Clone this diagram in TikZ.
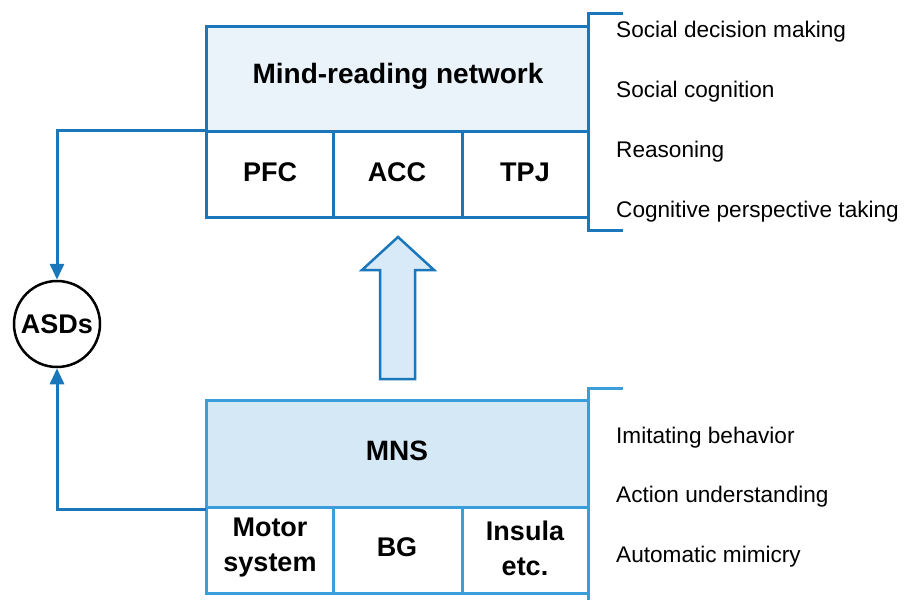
\documentclass[tikz,border=0pt]{standalone}
\usepackage{fontspec}
\setmainfont{Liberation Sans}
\usetikzlibrary{arrows.meta}
\definecolor{dblue}{HTML}{1B77BC}
\definecolor{lblue}{HTML}{3A9EDC}
\definecolor{topfill}{HTML}{EAF2FA}
\definecolor{botfill}{HTML}{D5E8F6}
\definecolor{arrfill}{HTML}{D8E9F7}
\begin{document}
\begin{tikzpicture}[x=1pt,y=-1pt,
  hdr/.style={font=\fontsize{28}{30}\selectfont\bfseries},
  cell/.style={font=\fontsize{27}{35}\selectfont\bfseries,align=center},
  lbl/.style={font=\fontsize{22.6}{26}\selectfont,anchor=base west,inner sep=0pt},
  conn/.style={draw=dblue,line width=3pt,-{Triangle[length=16pt,width=14pt]}},
  bline/.style={line width=3pt}]
\useasboundingbox (0,0) rectangle (914,600);
% top box
\fill[topfill] (206,26) rectangle (588,131);
\draw[dblue,bline] (206,26) rectangle (588,217);
\draw[dblue,bline] (206,131) -- (588,131);
\draw[dblue,bline] (333,131) -- (333,217);
\draw[dblue,bline] (462,131) -- (462,217);
\draw[dblue,bline] (623,13) -- (588,13) -- (588,230) -- (623,230);
\node[hdr] (mrn) at (398,76) {Mind-reading network};
\node[cell] (pfc) at (270,172) {PFC};
\node[cell] (acc) at (397,172) {ACC};
\node[cell] (tpj) at (525,172) {TPJ};
\node[lbl] (t1) at (616,37) {Social decision making};
\node[lbl] (t2) at (616,97) {Social cognition};
\node[lbl] (t3) at (616,157) {Reasoning};
\node[lbl] (t4) at (616,217) {Cognitive perspective taking};
% bottom box
\fill[botfill] (206,400) rectangle (588,507);
\draw[lblue,bline] (206,400) rectangle (588,593);
\draw[lblue,bline] (206,507) -- (588,507);
\draw[lblue,bline] (333,507) -- (333,593);
\draw[lblue,bline] (462,507) -- (462,593);
\draw[lblue,bline] (623,388) -- (588,388) -- (588,600);
\node[hdr] (mns) at (397,451) {MNS};
\node[cell] (mot) at (270,548) {Motor\\system};
\node[cell] (bg) at (397,547) {BG};
\node[cell] (ins) at (525,548) {Insula\\etc.};
\node[lbl] (b1) at (616,443) {Imitating behavior};
\node[lbl] (b2) at (616,502) {Action understanding};
\node[lbl] (b3) at (616,562) {Automatic mimicry};
% big arrow
\draw[dblue,line width=2.5pt,fill=arrfill,line join=miter]
  (380,379) -- (380,270) -- (362,270) -- (398,237) -- (434,270) -- (415,270) -- (415,379) -- cycle;
% ASDs
\node[draw=black,line width=2.5pt,circle,minimum size=86pt,inner sep=0pt,
  font=\fontsize{27}{30}\selectfont\bfseries] (asd) at (57,324) {ASDs};
\coordinate (c1) at (206,130);
\coordinate (c2) at (206,509);
\draw[conn] (c1) -- (57,130) -- (asd.north);
\draw[conn] (c2) -- (57,509) -- (asd.south);
\end{tikzpicture}
\end{document}
